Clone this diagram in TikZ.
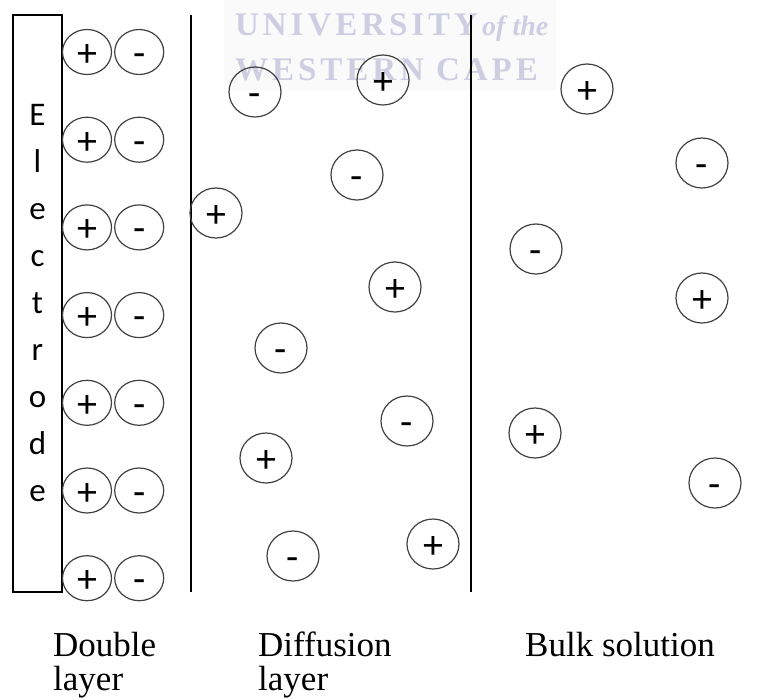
\documentclass[tikz,border=0pt]{standalone}
\usepackage{fontspec}
\setmainfont{Liberation Serif}
\newfontfamily\sansletters{Carlito}
\usetikzlibrary{
	shapes.geometric,
	positioning
}

\definecolor{markcol}{RGB}{206,206,226}

\begin{document}
\begin{tikzpicture}[
				x=1pt, y=-1pt,
				ion/.style={
					ellipse, draw=black!75, line width=1.2pt, inner sep=0pt,
					minimum width=52pt, minimum height=50pt,
					font=\sansletters\fontsize{40}{40}\selectfont,
					text height=29pt, text depth=0pt
				},
				bound/.style={
					ion, minimum width=49pt, minimum height=45pt
				},
				electrode/.style={
					rectangle, draw, line width=1.1pt, inner sep=0pt,
					minimum width=49pt, minimum height=577pt,
					align=center, font=\sansletters\fontsize{33}{47}\selectfont
				},
				layerlabel/.style={
					anchor=base west, align=left, inner sep=0pt,
					font=\fontsize{35}{34}\selectfont
				},
				watermark/.style={
					anchor=base west, inner sep=0pt, text=markcol,
					font=\bfseries\fontsize{33}{33}\selectfont\addfontfeature{LetterSpace=12}
				},
				boundary/.style={line width=1.2pt}
				]
				\useasboundingbox (0,0) rectangle (768,699);
				
				% watermark
				\fill[black!2] (224,0) rectangle (556,90);
				\node[watermark] (wmuni) at (235,35) {UNIVERSITY};
				\node[watermark, font=\bfseries\itshape\fontsize{28}{28}\selectfont] (wmofthe) at (482,35) {of the};
				\node[watermark] (wmcape) at (235,80) {WESTERN CAPE};
				
				% electrode
				\node[electrode] (electrode) at (37.5,303.5) {E\\l\\e\\c\\t\\r\\o\\d\\e};
				
				% layer boundaries
				\draw[boundary] (191,15) -- (191,592);
				\draw[boundary] (471,15) -- (471,592);
				
				% double layer
				\node[bound] (p1) at (87,52) {+};
				\node[bound, below=41.5pt of p1] (p2) {+};
				\node[bound, below=41.5pt of p2] (p3) {+};
				\node[bound, below=41.5pt of p3] (p4) {+};
				\node[bound, below=41.5pt of p4] (p5) {+};
				\node[bound, below=41.5pt of p5] (p6) {+};
				\node[bound, below=41.5pt of p6] (p7) {+};
				\node[bound, right=2pt of p1] (m1) {-};
				\node[bound, right=2pt of p2] (m2) {-};
				\node[bound, right=2pt of p3] (m3) {-};
				\node[bound, right=2pt of p4] (m4) {-};
				\node[bound, right=2pt of p5] (m5) {-};
				\node[bound, right=2pt of p6] (m6) {-};
				\node[bound, right=2pt of p7] (m7) {-};
				
				% diffusion layer
				\node[ion] (d1) at (255,92) {-};
				\node[ion] (d2) at (383,80) {+};
				\node[ion] (d3) at (357,175) {-};
				\node[ion] (d4) at (216,213) {+};
				\node[ion] (d5) at (395,287) {+};
				\node[ion] (d6) at (281,348) {-};
				\node[ion] (d7) at (407,421) {-};
				\node[ion] (d8) at (266,458) {+};
				\node[ion] (d9) at (293,556) {-};
				\node[ion] (d10) at (433,544) {+};
				
				% bulk solution
				\node[ion] (b1) at (587,89) {+};
				\node[ion] (b2) at (702,163) {-};
				\node[ion] (b3) at (536,249) {-};
				\node[ion] (b4) at (702,298) {+};
				\node[ion] (b5) at (535,433) {+};
				\node[ion] (b6) at (715,483) {-};
				
				% labels (base anchor sits on the last line)
				\node[layerlabel] (dlabel) at (53,690) {Double\\layer};
				\node[layerlabel] (flabel) at (258,690) {Diffusion\\layer};
				\node[layerlabel] (blabel) at (525,656) {Bulk solution};
			\end{tikzpicture}
\end{document}
